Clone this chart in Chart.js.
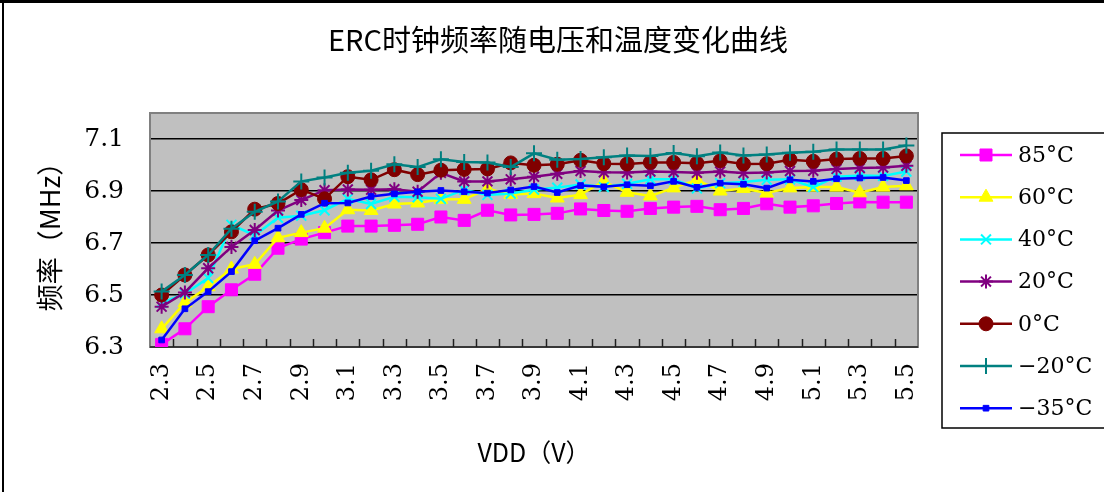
<!DOCTYPE html>
<html>
<head>
<meta charset="utf-8">
<script src="https://cdn.jsdelivr.net/npm/chart.js@4/dist/chart.umd.min.js"></script>
<style>
  body { margin: 0; background: #fff; }
  canvas { display: block; }
</style>
</head>
<body>
<canvas id="ercChart" width="1104" height="492"></canvas>
<script>
// VDD, V
const vdd = ['2.3', '2.4', '2.5', '2.6', '2.7', '2.8', '2.9', '3.0', '3.1', '3.2', '3.3',
    '3.4', '3.5', '3.6', '3.7', '3.8', '3.9', '4.0', '4.1', '4.2', '4.3', '4.4',
    '4.5', '4.6', '4.7', '4.8', '4.9', '5.0', '5.1', '5.2', '5.3', '5.4', '5.5'];

// частота, MHz
const t85 = [6.31, 6.37, 6.455, 6.52, 6.58, 6.68, 6.715, 6.74, 6.765, 6.765, 6.768, 6.772, 6.80, 6.787, 6.826, 6.808, 6.81,
    6.814, 6.831, 6.825, 6.822, 6.833, 6.838, 6.841, 6.828, 6.833, 6.851, 6.838, 6.843, 6.852, 6.858, 6.857, 6.857];
const t60 = [6.37, 6.47, 6.532, 6.60, 6.618, 6.72, 6.74, 6.757, 6.828, 6.825, 6.85, 6.854, 6.868, 6.868, 6.908, 6.887, 6.89,
    6.873, 6.886, 6.937, 6.895, 6.881, 6.912, 6.943, 6.9, 6.91, 6.892, 6.912, 6.915, 6.915, 6.893, 6.915, 6.92];
const t40 = [6.47, 6.505, 6.565, 6.77, 6.73, 6.797, 6.805, 6.826, 6.87, 6.85, 6.878, 6.876, 6.87, 6.905, 6.885, 6.89, 6.905,
    6.913, 6.925, 6.915, 6.928, 6.945, 6.945, 6.91, 6.93, 6.935, 6.943, 6.945, 6.915, 6.955, 6.96, 6.958, 6.975];
const t20 = [6.455, 6.51, 6.603, 6.685, 6.75, 6.825, 6.865, 6.903, 6.906, 6.905, 6.907, 6.897, 6.97, 6.937, 6.937, 6.945, 6.955,
    6.966, 6.977, 6.972, 6.971, 6.975, 6.973, 6.97, 6.975, 6.969, 6.971, 6.977, 6.978, 6.985, 6.988, 6.99, 6.997];
const t0 = [6.50, 6.577, 6.654, 6.743, 6.83, 6.852, 6.905, 6.87, 6.955, 6.943, 6.982, 6.963, 6.98, 6.983, 6.985, 7.008, 6.999,
    7.003, 7.018, 7.005, 7.004, 7.01, 7.01, 7.007, 7.016, 7.004, 7.005, 7.02, 7.014, 7.023, 7.025, 7.025, 7.035];
const tm20 = [6.513, 6.577, 6.654, 6.755, 6.82, 6.86, 6.937, 6.952, 6.97, 6.978, 7.003, 6.992, 7.022, 7.012, 7.01, 6.992, 7.045,
    7.02, 7.023, 7.03, 7.037, 7.035, 7.046, 7.034, 7.048, 7.037, 7.04, 7.047, 7.051, 7.06, 7.06, 7.06, 7.075];
const tm35 = [6.327, 6.447, 6.513, 6.59, 6.709, 6.757, 6.81, 6.853, 6.854, 6.879, 6.889, 6.897, 6.902, 6.897, 6.892, 6.904, 6.917,
    6.894, 6.921, 6.916, 6.924, 6.92, 6.937, 6.914, 6.93, 6.926, 6.911, 6.943, 6.937, 6.947, 6.95, 6.952, 6.94];

const seriesNames = ['85°C', '60°C', '40°C', '20°C', '0°C', '−20°C', '−35°C'];
const yTicks = [6.3, 6.5, 6.7, 6.9, 7.1];
const chartTitle = 'ERC时钟频率随电压和温度变化曲线';

const numFont = 'DejaVu Serif';
const cjkFont = 'Noto Sans CJK SC';

function line(label, values, color, style, radius, pw) {
    return {
        label: label,
        data: values,
        borderColor: color,
        backgroundColor: color,
        borderWidth: 2.5,
        pointStyle: style,
        pointRadius: radius,
        pointBorderWidth: pw,
        pointBorderColor: color,
        pointBackgroundColor: color,
        tension: 0
    };
}

const datasets = [
    line(seriesNames[0], t85, '#FF00FF', 'rect', 8.5, 1),
    line(seriesNames[1], t60, '#FFFF00', 'triangle', 8, 1),
    line(seriesNames[2], t40, '#00FFFF', 'crossRot', 7, 2),
    line(seriesNames[3], t20, '#800080', 'star', 7, 2),
    line(seriesNames[4], t0, '#800000', 'circle', 7, 1),
    line(seriesNames[5], tm20, '#008080', 'cross', 8, 2),
    line(seriesNames[6], tm35, '#0000FF', 'rect', 4, 1)
];
// как в Excel: последняя серия сверху
datasets.forEach((ds, i) => { ds.order = datasets.length - 1 - i; });

// фон, рамки, засечки, заголовок и легенда
const frame = {
    id: 'frame',
    beforeDraw(chart) {
        const { ctx, chartArea: a, width, height } = chart;
        ctx.save();
        ctx.fillStyle = '#fff';
        ctx.fillRect(0, 0, width, height);
        ctx.fillStyle = '#000';
        ctx.fillRect(0, 0, width, 3);
        ctx.fillRect(2, 0, 2, height);
        ctx.fillStyle = '#C0C0C0';
        ctx.fillRect(a.left, a.top, a.right - a.left, a.bottom - a.top);
        ctx.restore();
    },
    beforeDatasetsDraw(chart) {
        const { ctx, chartArea: a, scales } = chart;
        const x = scales.x;
        ctx.save();
        ctx.strokeStyle = '#808080';
        ctx.lineWidth = 2;
        ctx.strokeRect(a.left, a.top, a.right - a.left, a.bottom - a.top);
        ctx.strokeStyle = '#202020';
        ctx.lineWidth = 1.5;
        ctx.beginPath();
        ctx.moveTo(a.left, a.bottom);
        ctx.lineTo(a.right, a.bottom);
        for (let i = 1; i < vdd.length; i++) {
            const px = Math.round((x.getPixelForValue(i - 1) + x.getPixelForValue(i)) / 2) + 0.5;
            ctx.moveTo(px, a.bottom);
            ctx.lineTo(px, a.bottom - 8);
        }
        ctx.stroke();
        ctx.restore();
    },
    afterDraw(chart) {
        const ctx = chart.ctx;
        ctx.save();
        // заголовок по центру всего рисунка
        ctx.fillStyle = '#000';
        ctx.font = '29px "' + cjkFont + '"';
        ctx.textAlign = 'center';
        ctx.textBaseline = 'middle';
        ctx.fillText(chartTitle, 558, 40);

        ctx.strokeStyle = '#000';
        ctx.lineWidth = 1.5;
        ctx.strokeRect(942, 133, 200, 295);
        ctx.font = '22px "' + numFont + '"';
        ctx.textAlign = 'left';
        chart.data.datasets.forEach((ds, i) => {
            const y = 155 + i * 42.2;
            ctx.strokeStyle = ds.borderColor;
            ctx.lineWidth = 2.5;
            ctx.beginPath();
            ctx.moveTo(960, y);
            ctx.lineTo(1012, y);
            ctx.stroke();
            ctx.fillStyle = ds.pointBackgroundColor;
            ctx.strokeStyle = ds.pointBorderColor;
            ctx.lineWidth = ds.pointBorderWidth;
            Chart.helpers.drawPoint(ctx, {
                pointStyle: ds.pointStyle,
                radius: ds.pointRadius,
                rotation: 0,
                borderWidth: ds.pointBorderWidth
            }, 986, y);
            ctx.fillStyle = '#000';
            ctx.fillText(ds.label, 1018, y + 1);
        });
        ctx.restore();
    }
};

let myChart;

window.drawErcChart = function() {
    if (myChart) {
        myChart.destroy();
    }
    const ctx = document.getElementById('ercChart').getContext('2d');
    myChart = new Chart(ctx, {
        type: 'line',
        data: {
            labels: vdd,
            datasets: datasets
        },
        options: {
            responsive: false,
            maintainAspectRatio: false,
            animation: false,
            devicePixelRatio: 1,
            layout: {
                padding: { left: 0, right: 186, top: 113, bottom: 0 }
            },
            scales: {
                x: {
                    type: 'category',
                    offset: true,
                    grid: { display: false, drawTicks: false },
                    border: { display: false },
                    ticks: {
                        autoSkip: false,
                        minRotation: 90,
                        maxRotation: 90,
                        padding: 16,
                        color: '#000',
                        font: { family: numFont, size: 24 },
                        callback: (value, index) => index % 2 === 0 ? vdd[index] : ''
                    },
                    title: {
                        display: true,
                        text: 'VDD（V）',
                        color: '#000',
                        font: { family: cjkFont, size: 25 },
                        padding: { top: 0, bottom: 25 }
                    },
                    afterFit: (scale) => { scale.height = 145; }
                },
                y: {
                    min: 6.3,
                    max: 7.2,
                    afterBuildTicks: (axis) => { axis.ticks = yTicks.map(v => ({ value: v })); },
                    grid: { color: '#000', lineWidth: 1.5, drawTicks: false },
                    border: { display: false },
                    ticks: {
                        padding: 26,
                        color: '#000',
                        font: { family: numFont, size: 25 },
                        callback: (v) => Number(v).toFixed(1)
                    },
                    title: {
                        display: true,
                        text: '频率（MHz）',
                        color: '#000',
                        font: { family: cjkFont, size: 27 },
                        padding: { top: 34, bottom: 0 }
                    },
                    afterFit: (scale) => { scale.width = 150; }
                }
            },
            plugins: {
                legend: { display: false },
                tooltip: { enabled: false },
                title: { display: false }
            }
        },
        plugins: [frame]
    });
};

drawErcChart();
</script>
</body>
</html>
